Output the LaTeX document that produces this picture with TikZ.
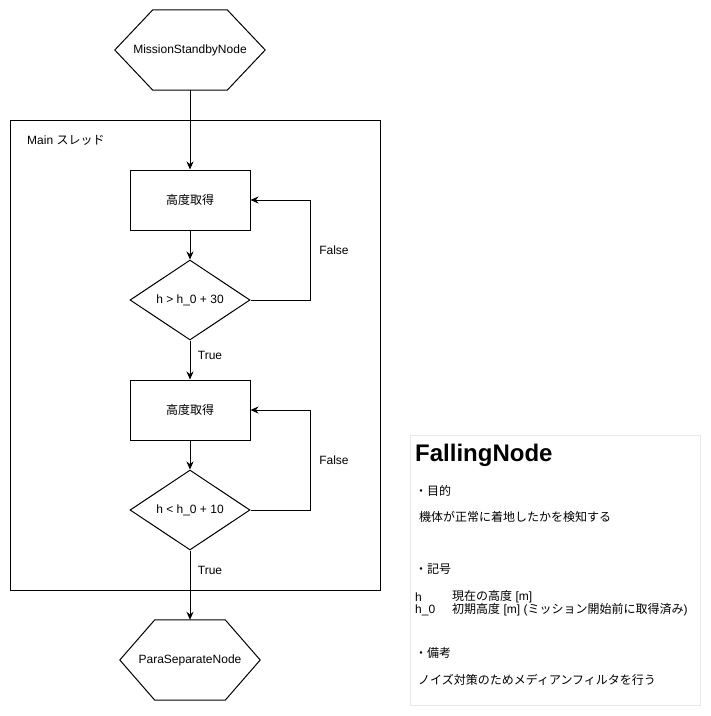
\documentclass[tikz,border=0pt]{standalone}
\usepackage{fontspec}
\setmainfont{Liberation Sans}
\newfontfamily\jpfont{Noto Sans CJK JP}
\usetikzlibrary{arrows.meta,positioning,shapes.geometric}
\definecolor{ink}{HTML}{000000}
\definecolor{memoedge}{HTML}{E8E8E8}
\newcommand{\nodefont}{\fontsize{12}{14}\selectfont}
% hexagon outline round a named terminal node, #2 = slant inset
\newcommand{\hexframe}[2]{\draw[ink, line width=1pt] ([xshift=#2]#1.north west) -- ([xshift=-#2]#1.north east)
  -- (#1.east) -- ([xshift=-#2]#1.south east) -- ([xshift=#2]#1.south west) -- (#1.west) -- cycle;}
\tikzset{
  proc/.style={draw=ink, line width=1pt, minimum width=120, minimum height=60, font=\nodefont},
  cond/.style={draw=ink, line width=1pt, diamond, aspect=1.5, minimum width=120,
               minimum height=80, inner sep=0pt, font=\nodefont},
  term/.style={minimum width=150, minimum height=80, inner sep=0pt, font=\nodefont},
  flow/.style={-{Stealth[length=8pt,width=7pt]}, line width=1pt, ink},
  tag/.style={font=\nodefont, inner sep=0pt},
  memo/.style={font=\nodefont, inner sep=0pt, anchor=west},
}

\begin{document}
\begin{tikzpicture}[x=1pt, y=-1pt]
    \useasboundingbox (0,0) rectangle (711,716);

    % thread frame
    \node[draw=ink, line width=1pt, minimum width=370, minimum height=470] (main) at (195,355) {};
    \node[memo] (mainlbl) at (27,140) {Main {\jpfont スレッド}};

    % terminals
    \node[term] (standby) at (190,50) {MissionStandbyNode};
    \hexframe{standby}{38pt}
    \node[term, minimum width=140] (parasep) at (190,660) {ParaSeparateNode};
    \hexframe{parasep}{35pt}

    % ascent check
    \node[proc] (get1) at (190,200) {\jpfont 高度取得};
    \node[cond] (up) at (190,300) {h > h\_0 + 30};

    % landing check
    \node[proc] (get2) at (190,410) {\jpfont 高度取得};
    \node[cond] (down) at (190,510) {h < h\_0 + 10};

    \draw[flow] (standby) -- (get1);
    \draw[flow] (get1) -- (up);
    \draw[flow] (up.east) -- ++(60,0) coordinate (loop1) |- (get1.east);
    \draw[flow] (up) -- (get2);
    \draw[flow] (get2) -- (down);
    \draw[flow] (down.east) -- ++(60,0) coordinate (loop2) |- (get2.east);
    \draw[flow] (down) -- (parasep);

    \node[tag] (f1) at (334,250) {False};
    \node[tag] (t1) at (210,355) {True};
    \node[tag] (f2) at (334,460) {False};
    \node[tag] (t2) at (210,570) {True};

    % description
    \node[draw=memoedge, line width=1pt, minimum width=290, minimum height=270] (desc) at (555,570) {};
    \node[memo, font=\fontsize{24}{28}\selectfont\bfseries] (title) at (415,455) {FallingNode};
    \node[memo] (aim) at (415,491) {\jpfont ・目的};
    \node[memo] (aimtxt) at (419,517) {\jpfont 機体が正常に着地したかを検知する};
    \node[memo] (sym) at (415,569) {\jpfont ・記号};
    \node[memo] (h) at (415,597) {h};
    \node[memo] (htxt) at (452,597) {{\jpfont 現在の高度} [m]};
    \node[memo] (hz) at (415,610) {h\_0};
    \node[memo] (hztxt) at (452,610) {{\jpfont 初期高度} [m] ({\jpfont ミッション開始前に取得済み})};
    \node[memo] (note) at (415,653) {\jpfont ・備考};
    \node[memo] (notetxt) at (418,680) {\jpfont ノイズ対策のためメディアンフィルタを行う};
  \end{tikzpicture}
\end{document}
